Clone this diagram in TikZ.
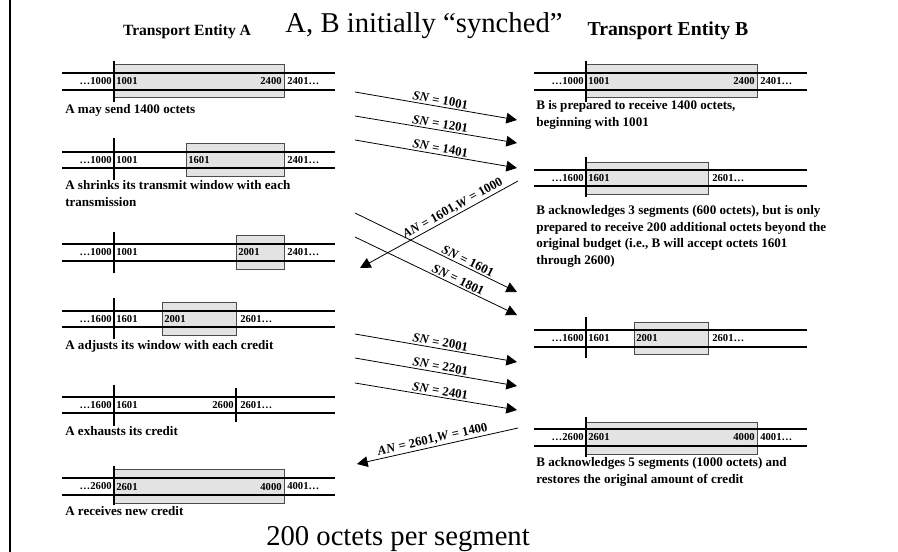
\documentclass[tikz,border=0pt]{standalone}
\usepackage{fontspec}
\setmainfont{Liberation Serif}
\usetikzlibrary{arrows.meta}
\newcommand\numfnt{\fontsize{8}{9}\selectfont\bfseries}
\newcommand\capfnt{\fontsize{9.8}{12.4}\selectfont\bfseries}
\newcommand\msgfnt{\fontsize{9.6}{11}\selectfont\bfseries}
\begin{document}
\begin{tikzpicture}[x=0.75pt,y=-0.75pt,
  seqline/.style={line width=1.5pt},
  seqtick/.style={line width=1.5pt},
  winbox/.style={draw=black!70,fill=black!11,line width=0.7pt},
  num/.style={font=\numfnt,inner sep=0pt},
  numl/.style={num,anchor=east},
  numr/.style={num,anchor=west},
  capt/.style={font=\capfnt,inner sep=0pt,anchor=north west,align=left},
  msg/.style={line width=0.6pt,-{Triangle[length=8pt,width=8pt]}},
  msglab/.style={font=\msgfnt,sloped,above,inner sep=1.2pt}]
\useasboundingbox (0,0) rectangle (898,552);
\draw[line width=2pt] (10,0) -- (10,552);

% titles
\node[font=\fontsize{11.7}{14}\selectfont\bfseries,anchor=base,inner sep=0pt] (tA) at (187,36) {Transport Entity A};
\node[font=\fontsize{21.5}{26}\selectfont,anchor=base,inner sep=0pt] (sync) at (424,33) {A, B initially “synched”};
\node[font=\fontsize{14.8}{18}\selectfont\bfseries,anchor=base,inner sep=0pt] (tB) at (668,36) {Transport Entity B};
\node[font=\fontsize{21.5}{26}\selectfont,anchor=base,inner sep=0pt] (seg) at (398,545) {200 octets per segment};

% ---------- Entity A ----------
% A1
\draw[winbox] (114,64) rectangle (284,97);
\draw[seqline] (62,73) -- (335,73) (62,90) -- (335,90);
\draw[seqtick] (114,61) -- (114,102);
\node[numl] (a1n1) at (112,81.5) {…1000};
\node[numr] (a1n2) at (116,81.5) {1001};
\node[numl] (a1n3) at (282,81.5) {2400};
\node[numr] (a1n4) at (287,81.5) {2401…};
\node[capt] (a1c) at (65,104) {A may send 1400 octets};

% A2
\draw[winbox] (186,143) rectangle (284,176);
\draw[seqline] (62,152) -- (335,152) (62,168) -- (335,168);
\draw[seqtick] (114,138) -- (114,180);
\node[numl] (a2n1) at (112,160) {…1000};
\node[numr] (a2n2) at (116,160) {1001};
\node[numr] (a2n3) at (188,160) {1601};
\node[numr] (a2n4) at (287,160) {2401…};
\node[capt] (a2c) at (65,180.5) {A shrinks its transmit window with each\\transmission};

% A3
\draw[winbox] (236,235) rectangle (284,269);
\draw[seqline] (62,244) -- (335,244) (62,261) -- (335,261);
\draw[seqtick] (114,232) -- (114,273);
\node[numl] (a3n1) at (112,252.5) {…1000};
\node[numr] (a3n2) at (116,252.5) {1001};
\node[numr] (a3n3) at (238,252.5) {2001};
\node[numr] (a3n4) at (287,252.5) {2401…};

% A4
\draw[winbox] (162,302) rectangle (236,335);
\draw[seqline] (62,311) -- (335,311) (62,327) -- (335,327);
\draw[seqtick] (114,298) -- (114,339);
\node[numl] (a4n1) at (112,319) {…1600};
\node[numr] (a4n2) at (116,319) {1601};
\node[numr] (a4n3) at (164,319) {2001};
\node[numr] (a4n4) at (240,319) {2601…};
\node[capt] (a4c) at (65,340.5) {A adjusts its window with each credit};

% A5
\draw[seqline] (62,397) -- (335,397) (62,413) -- (335,413);
\draw[seqtick] (114,385) -- (114,426);
\draw[line width=0.8pt] (236,388) -- (236,422);
\node[numl] (a5n1) at (112,405) {…1600};
\node[numr] (a5n2) at (116,405) {1601};
\node[numl] (a5n3) at (234,405) {2600};
\node[numr] (a5n4) at (240,405) {2601…};
\node[capt] (a5c) at (65,426.5) {A exhausts its credit};

% A6
\draw[winbox] (114,469) rectangle (284,503);
\draw[seqline] (62,478) -- (335,478) (62,495) -- (335,495);
\draw[seqtick] (114,466) -- (114,505);
\node[numl] (a6n1) at (112,486.5) {…2600};
\node[numr] (a6n2) at (116,486.5) {2601};
\node[numl] (a6n3) at (282,486.5) {4000};
\node[numr] (a6n4) at (287,486.5) {4001…};
\node[capt] (a6c) at (65,506.5) {A receives new credit};

% ---------- Entity B ----------
% B1
\draw[winbox] (586,64) rectangle (757,97);
\draw[seqline] (534,73) -- (807,73) (534,90) -- (807,90);
\draw[seqtick] (586,61) -- (586,102);
\node[numl] (b1n1) at (584,81.5) {…1000};
\node[numr] (b1n2) at (588,81.5) {1001};
\node[numl] (b1n3) at (755,81.5) {2400};
\node[numr] (b1n4) at (760,81.5) {2401…};
\node[capt] (b1c) at (536,100.5) {B is prepared to receive 1400 octets,\\beginning with 1001};

% B2
\draw[winbox] (586,162) rectangle (708,194);
\draw[seqline] (534,170) -- (807,170) (534,186) -- (807,186);
\draw[seqtick] (586,157) -- (586,197);
\node[numl] (b2n1) at (584,178) {…1600};
\node[numr] (b2n2) at (588,178) {1601};
\node[numr] (b2n3) at (712,178) {2601…};
\node[capt] (b2c) at (536,205.5) {B acknowledges 3 segments (600 octets), but is only\\prepared to receive 200 additional octets beyond the\\original budget (i.e., B will accept octets 1601\\through 2600)};

% B3
\draw[winbox] (634,322) rectangle (708,354);
\draw[seqline] (534,330) -- (807,330) (534,347) -- (807,347);
\draw[seqtick] (586,317) -- (586,358);
\node[numl] (b3n1) at (584,338.5) {…1600};
\node[numr] (b3n2) at (588,338.5) {1601};
\node[numr] (b3n3) at (636,338.5) {2001};
\node[numr] (b3n4) at (712,338.5) {2601…};

% B4
\draw[winbox] (586,422) rectangle (757,454);
\draw[seqline] (534,429) -- (807,429) (534,446) -- (807,446);
\draw[seqtick] (586,417) -- (586,457);
\node[numl] (b4n1) at (584,437.5) {…2600};
\node[numr] (b4n2) at (588,437.5) {2601};
\node[numl] (b4n3) at (755,437.5) {4000};
\node[numr] (b4n4) at (760,437.5) {4001…};
\node[capt] (b4c) at (536,457.5) {B acknowledges 5 segments (1000 octets) and\\restores the original amount of credit};

% ---------- messages ----------
\coordinate (m1s) at (355,92);  \coordinate (m1e) at (517,120);
\coordinate (m2s) at (355,116); \coordinate (m2e) at (517,143);
\coordinate (m3s) at (355,140); \coordinate (m3e) at (517,168);
\coordinate (k1s) at (518,181); \coordinate (k1e) at (360,268);
\coordinate (m4s) at (355,213); \coordinate (m4e) at (517,292);
\coordinate (m5s) at (355,237); \coordinate (m5e) at (517,315);
\coordinate (m6s) at (355,334); \coordinate (m6e) at (517,362);
\coordinate (m7s) at (355,358); \coordinate (m7e) at (517,386);
\coordinate (m8s) at (355,383); \coordinate (m8e) at (517,410);
\coordinate (k2s) at (518,428); \coordinate (k2e) at (357,464);

\draw[msg] (m1s) -- node[msglab,pos=0.52] (l1) {\textit{SN} = 1001} (m1e);
\draw[msg] (m2s) -- node[msglab,pos=0.52] (l2) {\textit{SN} = 1201} (m2e);
\draw[msg] (m3s) -- node[msglab,pos=0.52] (l3) {\textit{SN} = 1401} (m3e);
\draw[msg] (k1s) -- node[msglab,pos=0.39] (l4) {\textit{AN} = 1601,\textit{W} = 1000} (k1e);
\draw[msg] (m4s) -- node[msglab,pos=0.68] (l5) {\textit{SN} = 1601} (m4e);
\draw[msg] (m5s) -- node[msglab,pos=0.62] (l6) {\textit{SN} = 1801} (m5e);
\draw[msg] (m6s) -- node[msglab,pos=0.52] (l7) {\textit{SN} = 2001} (m6e);
\draw[msg] (m7s) -- node[msglab,pos=0.52] (l8) {\textit{SN} = 2201} (m7e);
\draw[msg] (m8s) -- node[msglab,pos=0.52] (l9) {\textit{SN} = 2401} (m8e);
\draw[msg] (k2s) -- node[msglab,pos=0.52] (l10) {\textit{AN} = 2601,\textit{W} = 1400} (k2e);
\end{tikzpicture}
\end{document}
